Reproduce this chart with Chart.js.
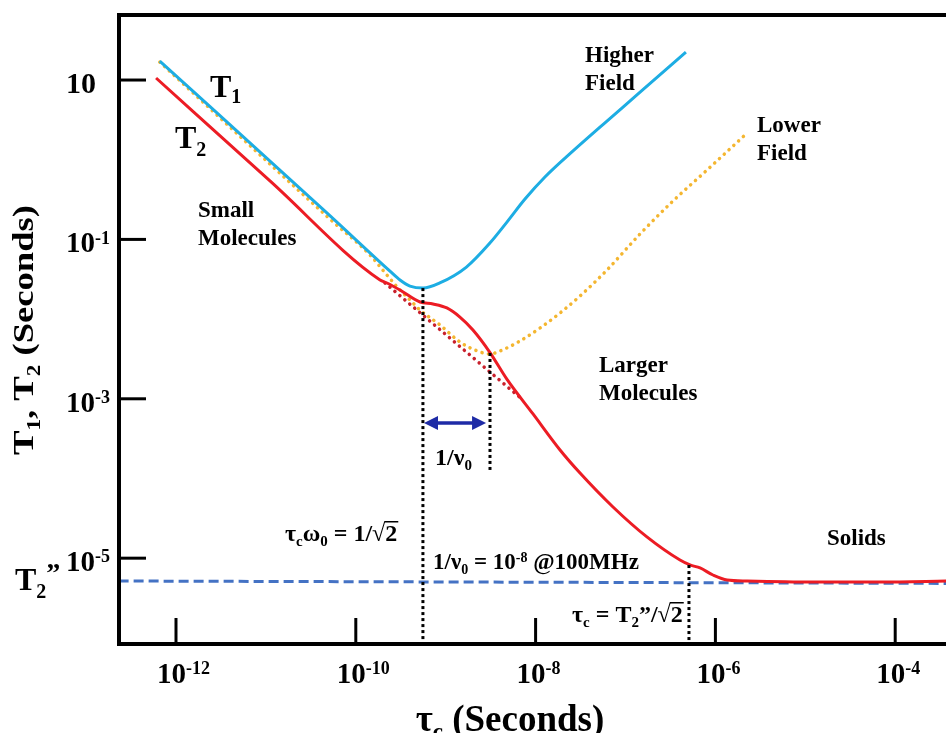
<!DOCTYPE html>
<html>
<head>
<meta charset="utf-8">
<script src="https://cdn.jsdelivr.net/npm/chart.js@4.4.0/dist/chart.umd.min.js"></script>
<style>
  html, body { margin: 0; padding: 0; background: #fff; }
  #wrap { width: 946px; height: 733px; }
</style>
</head>
<body>
<div id="wrap"><canvas id="chart" width="946" height="733"></canvas></div>
<script>
/* ── Data: τc (s) vs relaxation time (s) ── */
const t1Tau   = [6.6e-13, 4.8e-11, 2.4e-10, 3.1e-10, 4.0e-10, 5.6e-10, 8.6e-10, 1.7e-9, 3.1e-9, 4.8e-9, 7.62e-9, 1.27e-8, 2.61e-8, 6.22e-8, 1.34e-7, 4.7e-7];
const t1Val   = [17.3, 0.214, 0.040, 0.031, 0.026, 0.0245, 0.0284, 0.045, 0.090, 0.165, 0.321, 0.607, 1.29, 3.06, 6.49, 22.4];

const t2Tau   = [6.0e-13, 1.11e-11, 1.86e-10, 2.22e-10, 3.10e-10, 5.18e-10, 7.22e-10, 1.03e-9, 1.44e-9, 2.01e-9, 3.11e-9, 4.81e-9, 9.36e-9, 1.87e-8, 3.12e-8, 7.26e-8, 1.73e-7, 4.04e-7, 5.22e-7, 6.75e-7, 9.40e-7, 1.35e-6, 2.25e-6, 1.22e-5, 6.78e-5, 4.0e-4];
const t2Val   = [10.6, 0.541, 0.0310, 0.0284, 0.0232, 0.0164, 0.0155, 0.0138, 0.0106, 0.00729, 0.00380, 0.00175, 6.45e-4, 2.28e-4, 1.17e-4, 4.39e-5, 1.85e-5, 9.48e-6, 8.22e-6, 7.54e-6, 6.15e-6, 5.32e-6, 5.17e-6, 5.02e-6, 5.02e-6, 5.17e-6];

const lowTau  = [6.6e-13, 5.16e-11, 1.44e-10, 2.22e-10, 3.10e-10, 4.01e-10, 5.18e-10, 8.65e-10, 1.44e-9, 2.12e-9, 3.11e-9, 4.02e-9, 6.70e-9, 1.12e-8, 1.87e-8, 3.12e-8, 6.22e-8, 1.45e-7, 3.37e-7, 8.07e-7, 2.13e-6];
const lowVal  = [16.8, 0.180, 0.0637, 0.0357, 0.0232, 0.0174, 0.0130, 0.00843, 0.00516, 0.00409, 0.00365, 0.00398, 0.00531, 0.00773, 0.01194, 0.0195, 0.0413, 0.117, 0.303, 0.743, 2.04];

const extTau  = [2.11e-10, 7.24e-9];        // red dotted extrapolation of T2
const extVal  = [0.0284, 9.66e-4];

const rigidTau = [2.3e-13, 4.0e-4];          // T2'' rigid-lattice limit
const rigidVal = [5.17e-6, 4.82e-6];

const markTau    = [5.58e-10, 3.11e-9, 5.08e-7];   // black dotted markers
const markTop    = [0.0245, 0.00376, 8.2e-6];
const markBottom = [1e-7, 1.28e-4, 1e-7];

const arrowTau = [5.74e-10, 2.81e-9];       // 1/ν0 double arrow
const arrowT   = 4.97e-4;

const xTickExp = [-12, -10, -8, -6, -4];
const yTickExp = [1, -1, -3, -5];

const FONT = '"Liberation Serif", "Times New Roman", serif';
const pts = (xs, ys) => xs.map((v, i) => ({ x: v, y: ys[i] }));

function setFont(ctx, s) { ctx.font = `bold ${s}px ${FONT}`; }

// draw a run of text pieces; k: 'sub' | 'sup' | 'over' (radicand with bar)
function rich(ctx, x, y, size, parts, align) {
  const items = parts.map(p => {
    const s = p.s || ((p.k === 'sub' || p.k === 'sup') ? Math.round(size * 0.63) : size);
    setFont(ctx, s);
    return { ...p, s, w: ctx.measureText(p.t).width };
  });
  const total = items.reduce((a, p) => a + p.w, 0);
  let cx = align === 'center' ? x - total / 2 : x;
  let rootTop = y - size * 0.75;
  for (const p of items) {
    setFont(ctx, p.s);
    const dy = p.dy != null ? p.dy : p.k === 'sub' ? size * 0.22 : p.k === 'sup' ? -size * 0.3 : 0;
    ctx.fillText(p.t, cx, y + dy);
    if (p.t === '√') rootTop = y - ctx.measureText('√').actualBoundingBoxAscent;
    if (p.k === 'over') ctx.fillRect(cx - 1, rootTop, p.w + 2, Math.max(1.5, size * 0.06));
    cx += p.w;
  }
  return total;
}

const decor = {
  id: 'decor',
  afterDraw(chart) {
    const { ctx, chartArea: a, scales: { x, y } } = chart;
    ctx.save();
    ctx.fillStyle = '#000';
    ctx.strokeStyle = '#000';
    ctx.textBaseline = 'alphabetic';

    // frame (left, top, bottom)
    ctx.lineWidth = 4;
    ctx.beginPath();
    ctx.moveTo(chart.width, a.top); ctx.lineTo(a.left, a.top);
    ctx.lineTo(a.left, a.bottom); ctx.lineTo(chart.width, a.bottom);
    ctx.stroke();

    // inner ticks + labels
    ctx.lineWidth = 3;
    yTickExp.forEach(e => {
      const py = y.getPixelForValue(Math.pow(10, e));
      ctx.beginPath(); ctx.moveTo(a.left, py); ctx.lineTo(a.left + 27, py); ctx.stroke();
      const parts = e === 1 ? [{ t: '10', s: 30 }] : [{ t: '10' }, { t: String(e), k: 'sup' }];
      rich(ctx, 66, py + 13, 29, parts);
    });
    xTickExp.forEach(e => {
      const px = x.getPixelForValue(Math.pow(10, e));
      ctx.beginPath(); ctx.moveTo(px, a.bottom); ctx.lineTo(px, a.bottom - 26); ctx.stroke();
      rich(ctx, px - 19, 683, 29, [{ t: '10' }, { t: String(e), k: 'sup' }]);
    });

    // axis titles
    rich(ctx, 510, 731, 37, [{ t: 'τ' }, { t: 'c', k: 'sub' }, { t: ' (Seconds)' }], 'center');
    ctx.save();
    ctx.translate(33, 330);
    ctx.rotate(-Math.PI / 2);
    const yt = [{ t: 'T' }, { t: '1', k: 'sub' }, { t: ', T' }, { t: '2', k: 'sub' }, { t: ' (Seconds)' }];
    let natural = 0;
    yt.forEach(p => { setFont(ctx, p.k ? 19 : 30); natural += ctx.measureText(p.t).width; });
    ctx.scale(250 / natural, 1);
    rich(ctx, 0, 0, 30, yt, 'center');
    ctx.restore();

    // curve labels
    rich(ctx, 210, 97, 32, [{ t: 'T' }, { t: '1', k: 'sub', s: 20, dy: 6 }]);
    rich(ctx, 175, 148, 32, [{ t: 'T' }, { t: '2', k: 'sub', s: 20, dy: 8 }]);
    rich(ctx, 15, 590, 32, [{ t: 'T' }, { t: '2', k: 'sub', s: 20, dy: 8 }, { t: '”', s: 28, dy: -8 }]);

    const block = (lines, px, py) => lines.forEach((l, i) => rich(ctx, px, py + i * 28, 23, [{ t: l }]));
    block(['Small', 'Molecules'], 198, 217);
    block(['Higher', 'Field'], 585, 62);
    block(['Lower', 'Field'], 757, 132);
    block(['Larger', 'Molecules'], 599, 372);
    block(['Solids'], 827, 545);

    rich(ctx, 285, 541, 24, [{ t: 'τ' }, { t: 'c', k: 'sub' }, { t: 'ω' }, { t: '0', k: 'sub' },
      { t: ' = 1/' }, { t: '√' }, { t: '2', k: 'over' }]);
    rich(ctx, 433, 569, 23, [{ t: '1/ν' }, { t: '0', k: 'sub' }, { t: ' = 10' }, { t: '-8', k: 'sup' },
      { t: ' @100MHz' }]);
    rich(ctx, 572, 622, 24, [{ t: 'τ' }, { t: 'c', k: 'sub' }, { t: ' = T' }, { t: '2', k: 'sub' },
      { t: '”/' }, { t: '√' }, { t: '2', k: 'over' }]);
    rich(ctx, 435, 465, 24, [{ t: '1/ν' }, { t: '0', k: 'sub' }]);

    // double arrow
    const ax = arrowTau.map(v => x.getPixelForValue(v));
    const ay = y.getPixelForValue(arrowT);
    ctx.strokeStyle = ctx.fillStyle = '#1E2BA6';
    ctx.lineWidth = 3.5;
    ctx.beginPath(); ctx.moveTo(ax[0] + 8, ay); ctx.lineTo(ax[1] - 8, ay); ctx.stroke();
    [[ax[0], -1], [ax[1], 1]].forEach(([px, d]) => {
      ctx.beginPath();
      ctx.moveTo(px, ay);
      ctx.lineTo(px - d * 14, ay - 7);
      ctx.lineTo(px - d * 14, ay + 7);
      ctx.closePath();
      ctx.fill();
    });
    ctx.restore();
  }
};

const dotted = (color) => ({ borderColor: color, borderWidth: 3.5, borderDash: [0.1, 6.4], borderCapStyle: 'round' });

const datasets = [
  ...markTau.map((v, i) => ({
    data: [{ x: v, y: markTop[i] }, { x: v, y: markBottom[i] }],
    borderColor: '#000', borderWidth: 3, borderDash: [3, 3]
  })),
  { data: pts(t1Tau, t1Val), borderColor: '#1DADE3', borderWidth: 3, cubicInterpolationMode: 'monotone' },
  { data: pts(t2Tau, t2Val), borderColor: '#EC1C24', borderWidth: 3, cubicInterpolationMode: 'monotone' },
  { data: pts(lowTau, lowVal), ...dotted('#F4B630'), cubicInterpolationMode: 'monotone' },
  { data: pts(extTau, extVal), ...dotted('#C9202C') },
  { data: pts(rigidTau, rigidVal), borderColor: '#4472C4', borderWidth: 3, borderDash: [10, 5] }
];

new Chart(document.getElementById('chart'), {
  type: 'line',
  data: { datasets: datasets.map(d => ({ pointRadius: 0, fill: false, ...d })) },
  options: {
    responsive: false,
    animation: false,
    devicePixelRatio: 1,
    events: [],
    layout: { padding: { left: 119, top: 15, right: 0, bottom: 89 } },
    plugins: { legend: { display: false }, tooltip: { enabled: false } },
    scales: {
      x: { type: 'logarithmic', min: Math.pow(10, -12.634), max: Math.pow(10, -3.435), display: false },
      y: { type: 'logarithmic', min: Math.pow(10, -6.077), max: Math.pow(10, 1.816), display: false }
    }
  },
  plugins: [decor]
});
</script>
</body>
</html>
